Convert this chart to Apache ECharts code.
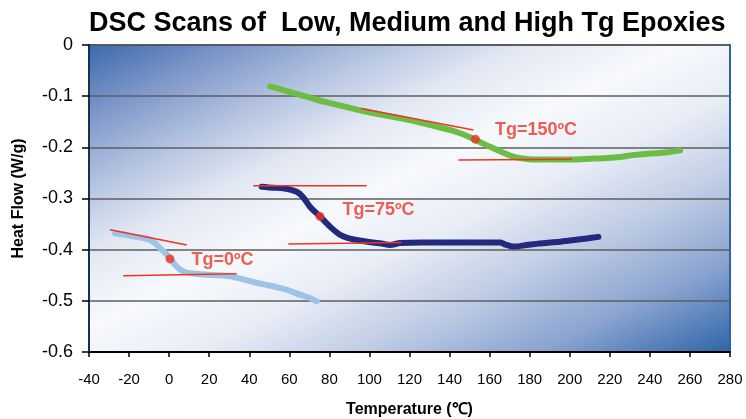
<!DOCTYPE html>
<html>
<head>
<meta charset="utf-8">
<script src="https://cdn.jsdelivr.net/npm/echarts@6/dist/echarts.min.js"></script>
<style>html,body{margin:0;padding:0;background:#fff}#c{width:746px;height:419px}</style>
</head>
<body>
<div id="c"></div>
<script>
// ---- data (temperature °C, heat flow W/g) ----
const highTg = [[50.4,-0.081],[57,-0.088],[65,-0.097],[73.7,-0.107],[82,-0.115],[90.3,-0.123],[98,-0.130],[106.9,-0.137],[115,-0.143],[123.6,-0.150],[132,-0.158],[140.2,-0.166],[147,-0.175],[152.7,-0.185],[160.2,-0.199],[166,-0.209],[171.8,-0.218],[177,-0.222],[181.8,-0.224],[195,-0.224],[206.8,-0.223],[212,-0.222],[218.5,-0.221],[225,-0.219],[231.7,-0.215],[238,-0.213],[245.1,-0.211],[250,-0.209],[255.1,-0.206]];
const medTg = [[46.2,-0.277],[52,-0.279],[57,-0.280],[63.7,-0.287],[67,-0.298],[70.3,-0.316],[75.3,-0.335],[80.3,-0.355],[85.3,-0.371],[89,-0.377],[93.6,-0.381],[101.9,-0.386],[106,-0.388],[110.3,-0.391],[115.3,-0.387],[126.9,-0.386],[140,-0.386],[150,-0.386],[165.2,-0.386],[168,-0.390],[171.8,-0.394],[178.5,-0.391],[185,-0.388],[193.5,-0.385],[200,-0.382],[208.5,-0.378],[214.3,-0.375]];
const lowTg = [[-27,-0.368],[-22,-0.371],[-17.9,-0.374],[-13,-0.377],[-9.5,-0.381],[-6.5,-0.389],[-4.6,-0.397],[-2,-0.406],[-0.4,-0.413],[2,-0.425],[3.8,-0.433],[6,-0.440],[8.8,-0.445],[13,-0.447],[18.8,-0.449],[25,-0.450],[30.4,-0.452],[37,-0.458],[43.7,-0.465],[50,-0.470],[55.4,-0.475],[60,-0.480],[65.3,-0.488],[70,-0.494],[73.7,-0.501]];
const tangentHigh1 = [[95.8,-0.124],[151.9,-0.166]];
const tangentHigh2 = [[144.4,-0.2246],[201,-0.2233]];
const tangentMed1 = [[42,-0.275],[98.6,-0.275]];
const tangentMed2 = [[59.5,-0.389],[116.1,-0.386]];
const tangentLow1 = [[-29.5,-0.361],[8.8,-0.391]];
const tangentLow2 = [[-22.9,-0.451],[33.7,-0.447]];
const tgPoints = [[152.9,-0.184],[75.3,-0.335],[0.4,-0.418]];
const tgLabels = ['Tg=150ºC','Tg=75ºC','Tg=0ºC'];
const xTicks = {min:-40, max:280, interval:20};
const yTicks = {min:-0.6, max:0, interval:0.1};

const chart = echarts.init(document.getElementById('c'), null, {renderer:'canvas'});
const RED = '#ee3524';
const FONT = 'Liberation Sans, Arial, sans-serif';
function tangent(d){
  return {type:'line', data:d, symbol:'none', z:5,
    lineStyle:{color:RED, width:1.5}, silent:true};
}
function curve(d,color){
  return {type:'line', data:d, symbol:'none', smooth:0.3, z:3,
    lineStyle:{color:color, width:6, cap:'round', join:'round'}, silent:true};
}
const labelCfg = [
  {distance:15, offset:[0,-9]},
  {distance:18, offset:[0,-6]},
  {distance:17, offset:[0,1]}
];
chart.setOption({
  animation:false,
  title:{text:'DSC Scans of  Low, Medium and High Tg Epoxies', left:84, top:5,
    textStyle:{fontFamily:FONT, fontWeight:'bold', fontSize:27, color:'#000'}},
  grid:{left:89, right:16, top:45, bottom:67, containLabel:false, outerBoundsMode:'none',
    show:true, borderColor:'#1a2b40', borderWidth:1.5,
    backgroundColor:{type:'linear', x:0, y:0, x2:0.373, y2:1.625, colorStops:[
      {offset:0, color:'#3b69ad'},
      {offset:0.12, color:'#7f98c9'},
      {offset:0.24, color:'#b8c6e2'},
      {offset:0.34, color:'#e2e8f3'},
      {offset:0.46, color:'#f7f9fc'},
      {offset:0.58, color:'#e8edf6'},
      {offset:0.7, color:'#c3cfe6'},
      {offset:0.85, color:'#8aa3d0'},
      {offset:1, color:'#2b64a8'}]}},
  xAxis:{type:'value', min:xTicks.min, max:xTicks.max, interval:xTicks.interval,
    name:'Temperature (℃)', nameLocation:'middle', nameGap:50,
    nameTextStyle:{fontFamily:FONT, fontWeight:'bold', fontSize:16, color:'#000'},
    axisLine:{show:true, onZero:false, lineStyle:{color:'#000', width:2}},
    axisTick:{show:true, length:5, lineStyle:{color:'#000', width:1.5}},
    axisLabel:{fontFamily:FONT, fontSize:15, color:'#000', margin:20},
    splitLine:{show:false}},
  yAxis:[{type:'value', min:yTicks.min, max:yTicks.max, interval:yTicks.interval,
    name:'Heat Flow (W/g)', nameLocation:'middle', nameGap:62,
    nameTextStyle:{fontFamily:FONT, fontWeight:'bold', fontSize:16, color:'#000'},
    axisLine:{show:true, onZero:false, lineStyle:{color:'#17324f', width:2}},
    axisTick:{show:true, length:7, lineStyle:{color:'#000', width:1.5}},
    axisLabel:{fontFamily:FONT, fontSize:18, color:'#000', margin:16,
      formatter:v=>String(Math.round(v*10)/10)},
    splitLine:{show:true, lineStyle:{color:'#5e5e5e', width:1.5}}},
   {type:'value', position:'right', min:yTicks.min, max:yTicks.max,
    axisLine:{show:true, onZero:false, lineStyle:{color:'#2a64ad', width:2}},
    axisTick:{show:false}, axisLabel:{show:false}, splitLine:{show:false}}],
  series:[
    curve(lowTg,'#9dc3e6'),
    curve(medTg,'#232a7e'),
    curve(highTg,'#6dbd45'),
    tangent(tangentHigh1), tangent(tangentHigh2),
    tangent(tangentMed1), tangent(tangentMed2),
    tangent(tangentLow1), tangent(tangentLow2),
    {type:'scatter', z:6, symbolSize:9, itemStyle:{color:RED},
     data:tgPoints.map((p,i)=>({value:p, label:{show:true, position:'right',
       distance:labelCfg[i].distance, offset:labelCfg[i].offset, formatter:tgLabels[i],
       fontFamily:FONT, fontWeight:'bold', fontSize:18, color:RED}})), silent:true}
  ]
});
</script>
</body>
</html>
